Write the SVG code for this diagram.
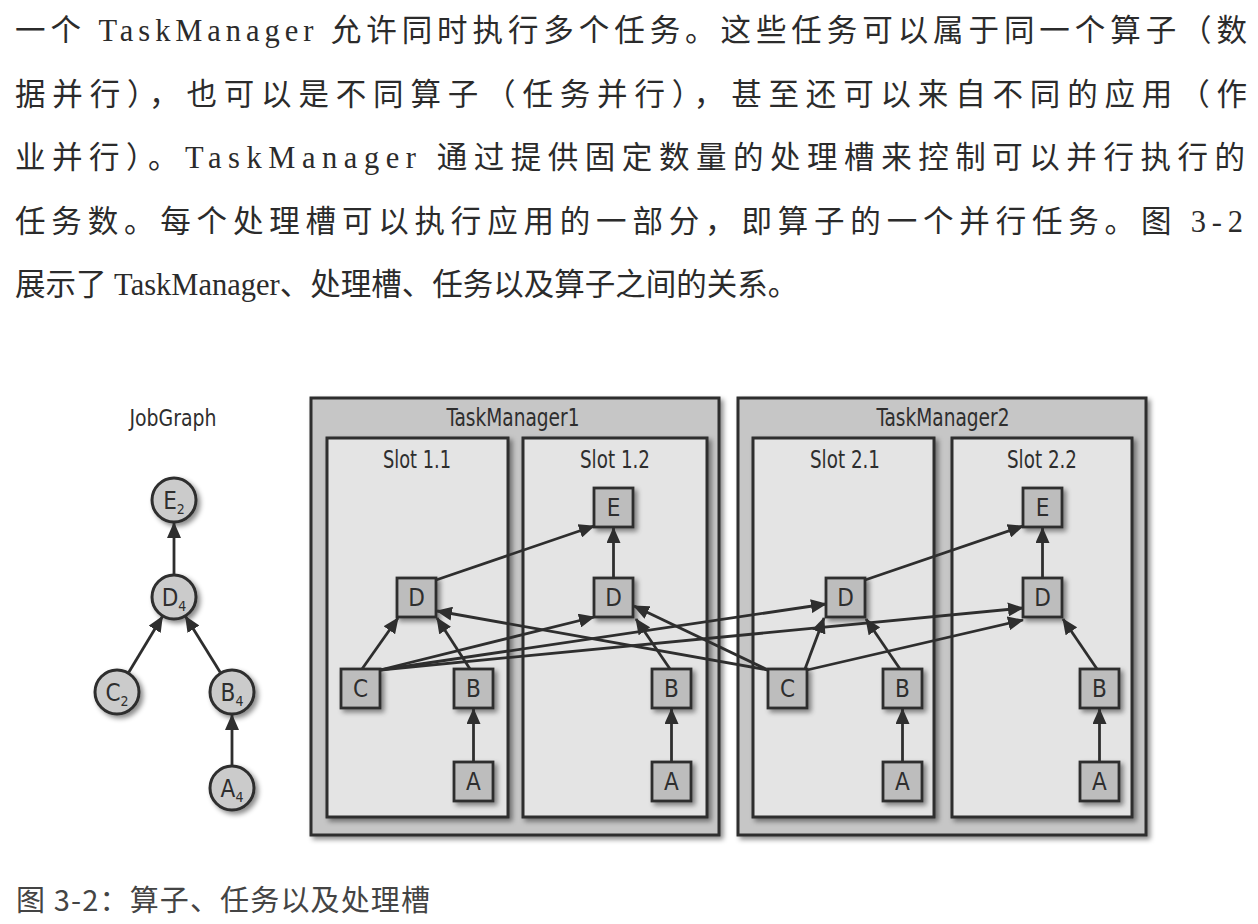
<svg xmlns="http://www.w3.org/2000/svg" width="1258" height="924" viewBox="0 0 1258 924">
  <defs>
    <style>
      .para { font-family: "Liberation Serif", "Noto Sans CJK SC", serif; font-size: 30.5px; fill: #2b2b2b; }
      .cap { font-family: "Noto Sans CJK SC", "Liberation Sans", sans-serif; font-size: 29px; fill: #444; }
      .lbl { font-family: "DejaVu Sans Condensed", "Liberation Sans Narrow", "Liberation Sans", sans-serif; fill: #2e2e2e; text-anchor: middle; }
      .title { font-size: 24px; }
      .tl { font-size: 24px; }
      .sub { font-size: 14px; }
      .tm { fill: #c6c6c6; stroke: #2e2e2e; stroke-width: 3; }
      .slot { fill: #e4e4e4; stroke: #2e2e2e; stroke-width: 3; }
      .task { fill: #bdbdbd; stroke: #2e2e2e; stroke-width: 2.8; }
      .op { fill: #cbcbcb; stroke: #2e2e2e; stroke-width: 3; }
      .edge { stroke: #2e2e2e; stroke-width: 2.8; fill: none; marker-end: url(#arr); }
    </style>
    <marker id="arr" viewBox="0 0 16 14" refX="15" refY="7" markerWidth="16" markerHeight="14" markerUnits="userSpaceOnUse" orient="auto">
      <path d="M0,0 L16,7 L0,14 z" fill="#2e2e2e"/>
    </marker>
    <filter id="sh" x="-20%" y="-20%" width="150%" height="150%">
      <feDropShadow dx="3" dy="3" stdDeviation="2.5" flood-color="#000" flood-opacity="0.45"/>
    </filter>
  </defs>

  <rect width="1258" height="924" fill="#ffffff"/>

  <g id="paragraph">
    <text class="para" x="15" y="41" textLength="1232" lengthAdjust="spacing">一个 TaskManager 允许同时执行多个任务。这些任务可以属于同一个算子（数</text>
    <text class="para" x="15" y="105" textLength="1232" lengthAdjust="spacing">据并行），也可以是不同算子（任务并行），甚至还可以来自不同的应用（作</text>
    <text class="para" x="15" y="168" textLength="1230" lengthAdjust="spacing">业并行）。TaskManager 通过提供固定数量的处理槽来控制可以并行执行的</text>
    <text class="para" x="15" y="232" textLength="1228" lengthAdjust="spacing">任务数。每个处理槽可以执行应用的一部分，即算子的一个并行任务。图 3-2</text>
    <text class="para" x="15" y="295">展示了 TaskManager、处理槽、任务以及算子之间的关系。</text>
  </g>

  <!-- JobGraph -->
  <g id="jobgraph-title">
    <text class="lbl" x="173" y="426" font-size="23" textLength="87" lengthAdjust="spacingAndGlyphs">JobGraph</text>
  </g>
  <g id="op-E2">
    <circle class="op" cx="174" cy="500" r="22" filter="url(#sh)"/>
    <text class="lbl tl" x="174" y="509">E<tspan class="sub" dy="5">2</tspan></text>
  </g>
  <g id="op-D4">
    <circle class="op" cx="174" cy="597" r="22" filter="url(#sh)"/>
    <text class="lbl tl" x="174" y="606">D<tspan class="sub" dy="5">4</tspan></text>
  </g>
  <g id="op-C2">
    <circle class="op" cx="117" cy="692" r="22" filter="url(#sh)"/>
    <text class="lbl tl" x="117" y="701">C<tspan class="sub" dy="5">2</tspan></text>
  </g>
  <g id="op-B4">
    <circle class="op" cx="232" cy="692" r="22" filter="url(#sh)"/>
    <text class="lbl tl" x="232" y="701">B<tspan class="sub" dy="5">4</tspan></text>
  </g>
  <g id="op-A4">
    <circle class="op" cx="232" cy="788" r="22" filter="url(#sh)"/>
    <text class="lbl tl" x="232" y="797">A<tspan class="sub" dy="5">4</tspan></text>
  </g>

  <!-- TaskManagers and slots -->
  <g id="taskmanager1">
    <rect class="tm" x="311" y="398" width="408" height="437" filter="url(#sh)"/>
    <text class="lbl title" x="513" y="426" textLength="133" lengthAdjust="spacingAndGlyphs">TaskManager1</text>
  </g>
  <g id="slot-1-1">
    <rect class="slot" x="327" y="438" width="181" height="379" filter="url(#sh)"/>
    <text class="lbl title" x="417" y="468" textLength="68" lengthAdjust="spacingAndGlyphs">Slot 1.1</text>
  </g>
  <g id="slot-1-2">
    <rect class="slot" x="523" y="438" width="184" height="379" filter="url(#sh)"/>
    <text class="lbl title" x="615" y="468" textLength="70" lengthAdjust="spacingAndGlyphs">Slot 1.2</text>
  </g>
  <g id="taskmanager2">
    <rect class="tm" x="738" y="398" width="408" height="437" filter="url(#sh)"/>
    <text class="lbl title" x="943" y="426" textLength="133" lengthAdjust="spacingAndGlyphs">TaskManager2</text>
  </g>
  <g id="slot-2-1">
    <rect class="slot" x="753" y="438" width="181" height="379" filter="url(#sh)"/>
    <text class="lbl title" x="845" y="468" textLength="70" lengthAdjust="spacingAndGlyphs">Slot 2.1</text>
  </g>
  <g id="slot-2-2">
    <rect class="slot" x="952" y="438" width="180" height="379" filter="url(#sh)"/>
    <text class="lbl title" x="1042" y="468" textLength="70" lengthAdjust="spacingAndGlyphs">Slot 2.2</text>
  </g>

  <!-- Tasks TM1 -->
  <g id="task-D11"><rect class="task" x="397" y="578" width="39" height="39" filter="url(#sh)"/><text class="lbl tl" x="416.5" y="606">D</text></g>
  <g id="task-C11"><rect class="task" x="341" y="669" width="39" height="39" filter="url(#sh)"/><text class="lbl tl" x="360.5" y="697">C</text></g>
  <g id="task-B11"><rect class="task" x="454" y="669" width="39" height="39" filter="url(#sh)"/><text class="lbl tl" x="473.5" y="697">B</text></g>
  <g id="task-A11"><rect class="task" x="454" y="762" width="39" height="39" filter="url(#sh)"/><text class="lbl tl" x="473.5" y="790">A</text></g>
  <g id="task-E12"><rect class="task" x="594" y="488" width="39" height="39" filter="url(#sh)"/><text class="lbl tl" x="613.5" y="516">E</text></g>
  <g id="task-D12"><rect class="task" x="594" y="578" width="39" height="39" filter="url(#sh)"/><text class="lbl tl" x="613.5" y="606">D</text></g>
  <g id="task-B12"><rect class="task" x="652" y="669" width="39" height="39" filter="url(#sh)"/><text class="lbl tl" x="671.5" y="697">B</text></g>
  <g id="task-A12"><rect class="task" x="652" y="762" width="39" height="39" filter="url(#sh)"/><text class="lbl tl" x="671.5" y="790">A</text></g>

  <!-- Tasks TM2 -->
  <g id="task-D21"><rect class="task" x="826" y="578" width="39" height="39" filter="url(#sh)"/><text class="lbl tl" x="845.5" y="606">D</text></g>
  <g id="task-C21"><rect class="task" x="768" y="669" width="39" height="39" filter="url(#sh)"/><text class="lbl tl" x="787.5" y="697">C</text></g>
  <g id="task-B21"><rect class="task" x="883" y="669" width="39" height="39" filter="url(#sh)"/><text class="lbl tl" x="902.5" y="697">B</text></g>
  <g id="task-A21"><rect class="task" x="883" y="762" width="39" height="39" filter="url(#sh)"/><text class="lbl tl" x="902.5" y="790">A</text></g>
  <g id="task-E22"><rect class="task" x="1023" y="488" width="39" height="39" filter="url(#sh)"/><text class="lbl tl" x="1042.5" y="516">E</text></g>
  <g id="task-D22"><rect class="task" x="1023" y="578" width="39" height="39" filter="url(#sh)"/><text class="lbl tl" x="1042.5" y="606">D</text></g>
  <g id="task-B22"><rect class="task" x="1080" y="669" width="39" height="39" filter="url(#sh)"/><text class="lbl tl" x="1099.5" y="697">B</text></g>
  <g id="task-A22"><rect class="task" x="1080" y="762" width="39" height="39" filter="url(#sh)"/><text class="lbl tl" x="1099.5" y="790">A</text></g>

  <g id="connectors">
    <!-- JobGraph -->
    <line class="edge" x1="174" y1="575" x2="174" y2="523"/>
    <line class="edge" x1="128.8" y1="672.3" x2="162.4" y2="616.5"/>
    <line class="edge" x1="220.2" y1="672.3" x2="185.6" y2="616.5"/>
    <line class="edge" x1="232" y1="766" x2="232" y2="715"/>
    <!-- TM1 -->
    <line class="edge" x1="473.5" y1="762" x2="473.5" y2="709"/>
    <line class="edge" x1="470" y1="669" x2="437" y2="618"/>
    <line class="edge" x1="362" y1="669" x2="398" y2="618"/>
    <line class="edge" x1="436" y1="580" x2="594" y2="526"/>
    <line class="edge" x1="380" y1="670" x2="594" y2="617"/>
    <line class="edge" x1="380" y1="670" x2="826" y2="604"/>
    <line class="edge" x1="380" y1="670" x2="1023" y2="608"/>
    <line class="edge" x1="613.5" y1="578" x2="613.5" y2="528"/>
    <line class="edge" x1="670" y1="669" x2="636" y2="619"/>
    <line class="edge" x1="671.5" y1="762" x2="671.5" y2="709"/>
    <!-- TM2 -->
    <line class="edge" x1="768" y1="670" x2="437" y2="611"/>
    <line class="edge" x1="768" y1="670" x2="634" y2="606"/>
    <line class="edge" x1="805" y1="669" x2="824" y2="618"/>
    <line class="edge" x1="807" y1="670" x2="1023" y2="620"/>
    <line class="edge" x1="900" y1="669" x2="866" y2="619"/>
    <line class="edge" x1="902.5" y1="762" x2="902.5" y2="709"/>
    <line class="edge" x1="865" y1="580" x2="1023" y2="526"/>
    <line class="edge" x1="1042.5" y1="578" x2="1042.5" y2="528"/>
    <line class="edge" x1="1097" y1="669" x2="1063" y2="619"/>
    <line class="edge" x1="1099.5" y1="762" x2="1099.5" y2="709"/>
  </g>

  <g id="caption">
    <text class="cap" x="16" y="911" textLength="414" lengthAdjust="spacing">图 3-2：算子、任务以及处理槽</text>
  </g>
</svg>
